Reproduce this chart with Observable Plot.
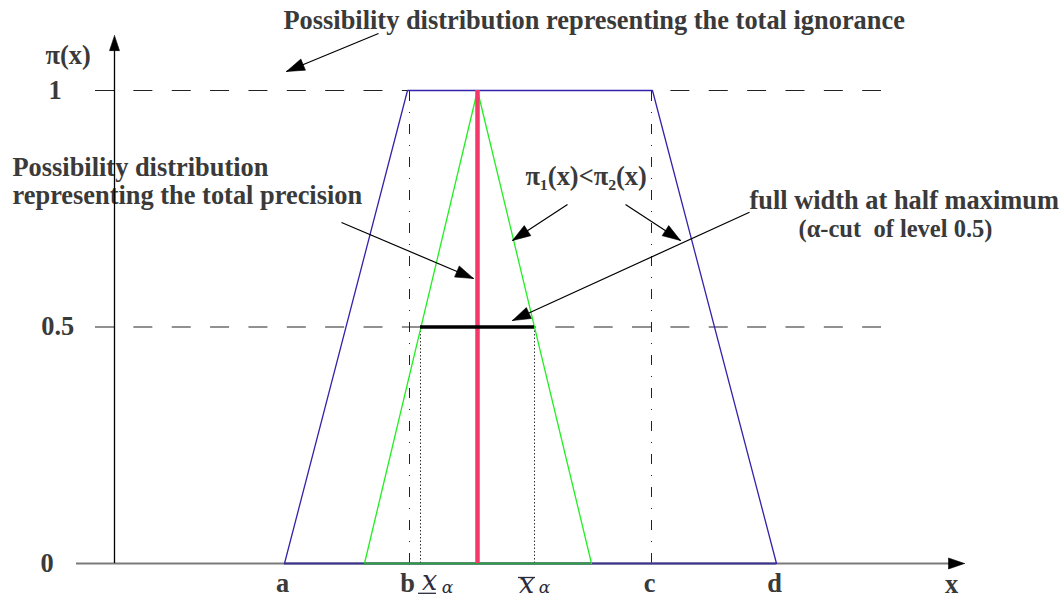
<!DOCTYPE html>
<html><head><meta charset="utf-8">
<script src="https://cdn.jsdelivr.net/npm/d3@7"></script>
<script src="https://cdn.jsdelivr.net/npm/@observablehq/plot@0.6"></script>
<style>html,body{margin:0;padding:0;background:#fff;overflow:hidden}</style>
</head><body><div id="chart"></div>
<script>
// ---------- data ----------
const levels = [0, 0.5, 1];
const levelLabels = ["0", "0.5", "1"];
const levelLabelX = [-0.74, -0.733, -0.66];
const pointNames = ["a", "b", "c", "d"];
const pointX = [1.70, 2.95, 5.37, 6.62];          // a, b, c, d on the x axis
const trapX = [1.70, 2.93, 5.38, 6.62];           // total ignorance (trapezoid)
const trapY = [0, 1, 1, 0];
const triX = [2.50, 3.63, 4.77];                  // triangular distribution
const triY = [0, 1, 0];
const modeX = 3.63;                               // total precision (spike)
const alphaLevel = 0.5;
const cutLo = 3.06, cutHi = 4.20;                 // alpha-cut bounds
const cutLabelX = [3.15, 4.12];                   // positions of the x̲α and x̄α labels
const cutLabelY = [-0.057, -0.0634];
const cutAlphaY = [-0.062, -0.062];
const dashExtent = [-0.19, 7.67];
const xAxisExtent = [-0.38, 8.50];
const yAxisTop = 1.116;

const noteTexts = [
  "Possibility distribution representing the total ignorance",
  "Possibility distribution\nrepresenting the total precision",
  "π₁(x)<π₂(x)",
  "full width at half maximum"
];
const noteX = [1.69, -1.02, 4.11, 6.35];
const noteY = [1.131, 0.759, 0.801, 0.750];
const subNote = "(α-cut  of level 0.5)";
const subNoteX = 6.84, subNoteY = 0.691;

const arrowFromX = [2.64, 2.27, 4.53, 5.11, 6.35];
const arrowFromY = [1.1205, 0.7209, 0.759, 0.759, 0.7427];
const arrowToX   = [1.72, 3.59, 3.98, 5.66, 3.98];
const arrowToY   = [1.0402, 0.6025, 0.6829, 0.6829, 0.5137];

// ---------- layout ----------
const W = 1062, H = 599, mT = 90, mB = 36;
const xDom = [-1.14, 9.48], yDom = [0, 1];
const toPx = (x, y) => [(x - xDom[0]) / (xDom[1] - xDom[0]) * W,
                        (H - mB) - (y - yDom[0]) / (yDom[1] - yDom[0]) * (H - mT - mB)];
const toData = (X, Y) => [xDom[0] + X / W * (xDom[1] - xDom[0]),
                          yDom[0] + ((H - mB) - Y) / (H - mT - mB) * (yDom[1] - yDom[0])];
function arrowHead(id, x1, y1, x2, y2, len, hw) {
  const [X1, Y1] = toPx(x1, y1), [X2, Y2] = toPx(x2, y2);
  const d = Math.hypot(X2 - X1, Y2 - Y1), ux = (X2 - X1) / d, uy = (Y2 - Y1) / d;
  const bx = X2 - ux * len, by = Y2 - uy * len;
  return [[X2, Y2], [bx - uy * hw, by + ux * hw], [bx + uy * hw, by - ux * hw], [X2, Y2]]
    .map(([X, Y]) => { const [x, y] = toData(X, Y); return {id, x, y}; });
}

const trap = trapX.map((x, i) => ({x, y: trapY[i]}));
const tri = triX.map((x, i) => ({x, y: triY[i]}));
const arrows = arrowFromX.map((x1, i) => ({x1, y1: arrowFromY[i], x2: arrowToX[i], y2: arrowToY[i]}));
const heads = [
  ...arrows.flatMap((a, i) => arrowHead("n" + i, a.x1, a.y1, a.x2, a.y2, 18, 6)),
  ...arrowHead("ya", 0, 0, 0, yAxisTop, 15, 5),
  ...arrowHead("xa", xAxisExtent[0], 0, xAxisExtent[1], 0, 16, 5.5)
];
const notes = noteTexts.map((t, i) => ({t, x: noteX[i], y: noteY[i]}));
const levelData = levels.map((y, i) => ({y, t: levelLabels[i], x: levelLabelX[i]}));
const pointData = pointNames.map((t, i) => ({t, x: pointX[i]}));
const cutLabels = cutLabelX.map((x, i) => ({x, y: cutLabelY[i], ya: cutAlphaY[i]}));

const textColor = "#3a3a3a";
const mathColor = "#2b2b40";
const serif = "Liberation Serif, Times New Roman, serif";

const chart = Plot.plot({
  width: W, height: H,
  marginLeft: 0, marginRight: 0, marginTop: mT, marginBottom: mB,
  x: {domain: xDom, axis: null},
  y: {domain: yDom, axis: null},
  style: {background: "#fff", fontFamily: serif},
  marks: [
    // text annotations (drawn first, axes pass over them)
    Plot.text(notes, {x: "x", y: "y", text: "t", textAnchor: "start", lineAnchor: "bottom",
      lineHeight: 1.07, fontSize: 26.4, fontWeight: "bold", fill: textColor}),
    Plot.text([subNote], {x: () => subNoteX, y: () => subNoteY, text: d => d, textAnchor: "start",
      lineAnchor: "bottom", fontSize: 24.5, fontWeight: "bold", fill: textColor}),
    // reference dashed levels
    Plot.ruleY([alphaLevel, 1], {x1: dashExtent[0], x2: dashExtent[1], stroke: "#222",
      strokeWidth: 1, strokeDasharray: "19,19.36"}),
    // dash-dot verticals at b and c
    Plot.ruleX([pointX[1], pointX[2]], {y1: 0, y2: 1, stroke: "#222", strokeWidth: 1,
      strokeDasharray: "10,11,1,11"}),
    // dotted verticals at alpha-cut bounds
    Plot.ruleX([cutLo, cutHi], {y1: 0, y2: alphaLevel, stroke: "#333", strokeWidth: 1,
      strokeDasharray: "1.5,2"}),
    // x axis line
    Plot.ruleY([0], {x1: xAxisExtent[0], x2: xAxisExtent[1] - 0.1, stroke: "#7a7a7a", strokeWidth: 2.2}),
    // trapezoid
    Plot.line(trap, {x: "x", y: "y", stroke: "#3322aa", strokeWidth: 1.3}),
    Plot.ruleY([0], {x1: trapX[0], x2: trapX[3], stroke: "#3a3390", strokeWidth: 2.2}),
    // triangle
    Plot.line(tri, {x: "x", y: "y", stroke: "#22ee22", strokeWidth: 1.3}),
    Plot.ruleY([0], {x1: triX[0], x2: triX[2], stroke: "#2e9e3e", strokeWidth: 2.2}),
    // spike
    Plot.ruleX([modeX], {y1: 0, y2: 1, stroke: "#f5386a", strokeWidth: 4.5}),
    // alpha-cut bar
    Plot.ruleY([alphaLevel], {x1: cutLo, x2: cutHi, stroke: "#000", strokeWidth: 3.5}),
    // y axis
    Plot.ruleX([0], {y1: 0, y2: yAxisTop - 0.02, stroke: "#000", strokeWidth: 1.3}),
    // annotation arrows
    Plot.link(arrows, {x1: "x1", y1: "y1", x2: "x2", y2: "y2", stroke: "#000", strokeWidth: 1.2}),
    Plot.line(heads, {x: "x", y: "y", z: "id", fill: "#000", stroke: "#000", strokeWidth: 0.6}),
    // level labels
    Plot.text(levelData, {x: "x", y: "y", text: "t", textAnchor: "start", fontSize: 26.4,
      fontWeight: "bold", fill: textColor}),
    Plot.text(["π(x)"], {x: () => -0.69, y: () => 1.055, text: d => d, textAnchor: "start",
      lineAnchor: "bottom", fontSize: 26.4, fontWeight: "bold", fill: textColor}),
    // point labels
    Plot.text(pointData, {x: "x", y: () => -0.0592, text: "t", dx: -2, lineAnchor: "bottom",
      fontSize: 26.4, fontWeight: "bold", fill: textColor}),
    Plot.text(["x"], {x: () => 8.37, y: () => -0.062, text: d => d, lineAnchor: "bottom",
      fontSize: 26.4, fontWeight: "bold", fill: textColor}),
    // alpha-cut bound labels
    Plot.text(cutLabels, {x: "x", y: "y", text: () => "x", lineAnchor: "bottom",
      fontFamily: "DejaVu Serif", fontStyle: "italic", fontSize: 27, fill: mathColor}),
    Plot.text(cutLabels, {x: d => d.x + 0.18, y: "ya", text: () => "α", lineAnchor: "bottom",
      fontFamily: "DejaVu Serif", fontStyle: "italic", fontSize: 17, fill: mathColor}),
    Plot.ruleY([-0.063], {x1: cutLabelX[0] - 0.11, x2: cutLabelX[0] + 0.07, stroke: mathColor, strokeWidth: 1.3}),
    Plot.ruleY([-0.0296], {x1: cutLabelX[1] - 0.08, x2: cutLabelX[1] + 0.09, stroke: mathColor, strokeWidth: 1.3})
  ]
});
document.getElementById("chart").appendChild(chart);
</script>
</body></html>
